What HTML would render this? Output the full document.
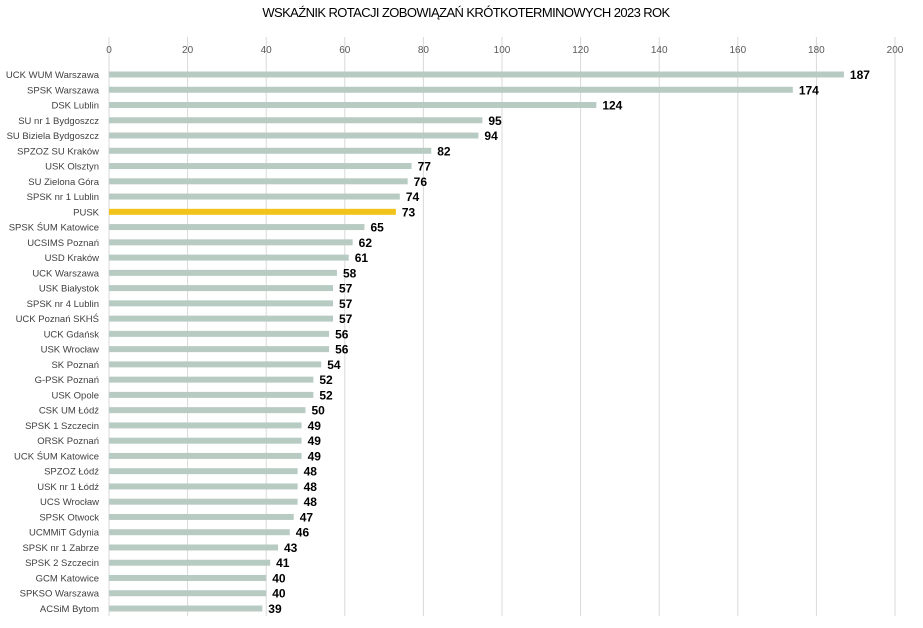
<!DOCTYPE html>
<html><head><meta charset="utf-8"><style>
html,body{margin:0;padding:0;background:#fff;}
svg{display:block;font-family:"Liberation Sans",sans-serif;}
</style></head><body>
<svg id="chart" width="923" height="628">
<text x="466" y="17" text-anchor="middle" font-size="13" fill="#000" letter-spacing="-0.6">WSKAŹNIK ROTACJI ZOBOWIĄZAŃ KRÓTKOTERMINOWYCH 2023 ROK</text>
<g id="grid"></g><g id="bars"></g>
</svg>
<script>
const categories=["UCK WUM Warszawa","SPSK Warszawa","DSK Lublin","SU nr 1 Bydgoszcz","SU Biziela Bydgoszcz","SPZOZ SU Kraków","USK Olsztyn","SU Zielona Góra","SPSK nr 1 Lublin","PUSK","SPSK ŚUM Katowice","UCSIMS Poznań","USD Kraków","UCK Warszawa","USK Białystok","SPSK nr 4 Lublin","UCK Poznań SKHŚ","UCK Gdańsk","USK Wrocław","SK Poznań","G-PSK Poznań","USK Opole","CSK UM Łódź","SPSK 1 Szczecin","ORSK Poznań","UCK ŚUM Katowice","SPZOZ Łódź","USK nr 1 Łódź","UCS Wrocław","SPSK Otwock","UCMMiT Gdynia","SPSK nr 1 Zabrze","SPSK 2 Szczecin","GCM Katowice","SPKSO Warszawa","ACSiM Bytom"];
const values=[187,174,124,95,94,82,77,76,74,73,65,62,61,58,57,57,57,56,56,54,52,52,50,49,49,49,48,48,48,47,46,43,41,40,40,39];
const ticks=[0,20,40,60,80,100,120,140,160,180,200];
const highlight="PUSK";
const NS="http://www.w3.org/2000/svg";
const x0=109,x1=895,xMax=200,yFirst=74.5,yLast=608.5;
const xs=v=>x0+(v/xMax)*(x1-x0);
const ys=i=>yFirst+i*(yLast-yFirst)/(categories.length-1);
const grid=document.getElementById('grid'),bars=document.getElementById('bars');
function mk(t,a,p){const e=document.createElementNS(NS,t);for(const k in a)e.setAttribute(k,a[k]);p.appendChild(e);return e;}
ticks.forEach(t=>{
  const l=mk('line',{x1:xs(t),x2:xs(t),y1:37,y2:616,stroke:'#d9d9d9','stroke-width':1},grid);
  
  
  const tx=mk('text',{x:xs(t),y:53,'text-anchor':'middle','font-size':10,fill:'#595959'},grid);
  tx.textContent=t;
  
  
});
categories.forEach((c,i)=>{
  const y=ys(i);
  const lb=mk('text',{x:99,y:y+3.5,'text-anchor':'end','font-size':9.5,fill:'#404040'},bars);
  lb.textContent=c;
  
  
  const r=mk('rect',{x:x0,y:y-3,width:xs(values[i])-x0,height:6,fill:c===highlight?'#f2c31a':'#b8cbc3'},bars);
  
  
  const v=mk('text',{x:xs(values[i])+6,y:y+4.5,'font-size':12,'font-weight':'bold',fill:'#000'},bars);
  v.textContent=values[i];
  
  
});
</script>
</body></html>
